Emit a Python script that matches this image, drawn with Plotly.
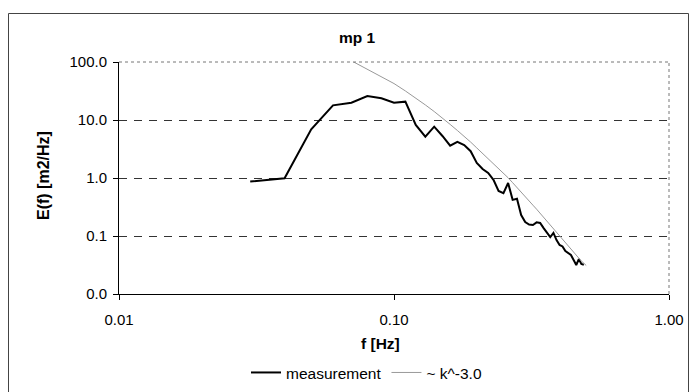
import plotly.graph_objects as go

# ---- data ----
freq_meas = [0.03, 0.04, 0.05, 0.06, 0.07, 0.08, 0.09, 0.10, 0.11, 0.12,
             0.13, 0.14, 0.15, 0.16, 0.17, 0.18, 0.19, 0.20, 0.21, 0.22,
             0.23, 0.24, 0.25, 0.26, 0.27, 0.28, 0.29, 0.30, 0.31, 0.32,
             0.33, 0.34, 0.35, 0.36, 0.37, 0.38, 0.39, 0.40, 0.41, 0.42,
             0.43, 0.44, 0.45, 0.46, 0.47, 0.48, 0.49]
measurement = [0.87, 0.99, 6.9, 17.9, 19.9, 25.9, 23.7, 19.9, 20.7, 8.2,
               5.15, 7.66, 5.3, 3.6, 4.2, 3.7, 2.9, 1.82, 1.43, 1.22,
               0.93, 0.60, 0.55, 0.82, 0.42, 0.44, 0.23, 0.174, 0.158, 0.155,
               0.172, 0.168, 0.137, 0.117, 0.096, 0.113, 0.085, 0.070, 0.066, 0.055,
               0.050, 0.047, 0.0385, 0.0316, 0.040, 0.033, 0.032]

freq_ref = [0.07, 0.08, 0.09, 0.10, 0.11, 0.12, 0.13, 0.14, 0.15, 0.16,
            0.17, 0.18, 0.19, 0.20, 0.21, 0.22, 0.23, 0.24, 0.25, 0.26,
            0.27, 0.28, 0.29, 0.30, 0.31, 0.32, 0.33, 0.34, 0.35, 0.36,
            0.37, 0.38, 0.39, 0.40, 0.41, 0.42, 0.43, 0.44, 0.45, 0.46,
            0.47, 0.48, 0.49, 0.50]
k_minus3 = [105, 75.5, 55.6, 42.5, 31.7, 24.0, 18.2, 14.0, 10.9, 8.4,
            6.6, 5.3, 4.16, 3.3, 2.66, 2.15, 1.76, 1.45, 1.21, 1.01,
            0.83, 0.68, 0.57, 0.475, 0.40, 0.34, 0.29, 0.246, 0.21, 0.178,
            0.152, 0.13, 0.112, 0.097, 0.085, 0.075, 0.066, 0.058, 0.052, 0.046,
            0.041, 0.037, 0.034, 0.031]

x_tickvals = [0.01, 0.1, 1.0]
x_ticktext = ["0.01", "0.10", "1.00"]
y_tickvals = [0.01, 0.1, 1, 10, 100]
y_ticktext = ["0.0", "0.1", "1.0", "10.0", "100.0"]

FONT = "Liberation Sans, Arial, sans-serif"

fig = go.Figure()
fig.add_trace(go.Scatter(x=freq_meas, y=measurement, mode="lines",
                         name="measurement",
                         line=dict(color="black", width=2)))
fig.add_trace(go.Scatter(x=freq_ref, y=k_minus3, mode="lines",
                         name="~ k^-3.0",
                         line=dict(color="#999999", width=1)))

fig.update_layout(
    width=691, height=392,
    margin=dict(l=119, r=22, t=62, b=98, autoexpand=False),
    paper_bgcolor="white", plot_bgcolor="white",
    font=dict(family=FONT, size=15, color="black"),
    title=dict(text="<b>mp 1</b>", x=357/691, xref="container", xanchor="center",
               y=1-38/392, yref="container", yanchor="middle",
               font=dict(size=15.5, family=FONT)),
    showlegend=True,
    legend=dict(orientation="h", x=0.45, xanchor="center", y=-0.34, yanchor="middle",
                font=dict(size=15.5, family=FONT), bgcolor="rgba(0,0,0,0)",
                itemwidth=30, tracegroupgap=0),
    xaxis=dict(type="log", range=[-2, 0], tickvals=x_tickvals, ticktext=x_ticktext,
               showline=True, linecolor="black", linewidth=1,
               ticks="outside", ticklen=5, tickcolor="black",
               ticklabelstandoff=7,
               showgrid=False, zeroline=False,
               tickfont=dict(size=15)),
    yaxis=dict(type="log", range=[-2, 2], tickvals=y_tickvals, ticktext=y_ticktext,
               showline=True, linecolor="black", linewidth=1,
               ticks="outside", ticklen=5, tickcolor="black",
               ticklabelstandoff=3,
               showgrid=True, gridcolor="#333333", gridwidth=1, griddash="8px,7px",
               zeroline=False,
               tickfont=dict(size=15)),
    annotations=[
        dict(text="<b>f [Hz]</b>", xref="paper", yref="paper",
             x=(380-119)/550, y=(294-343)/232, xanchor="center", yanchor="middle",
             showarrow=False, font=dict(size=15.5, family=FONT)),
        dict(text="<b>E(f) [m2/Hz]</b>", xref="paper", yref="paper",
             x=(43-119)/550, y=(294-176)/232, xanchor="center", yanchor="middle",
             textangle=-90, showarrow=False, font=dict(size=16, family=FONT)),
    ],
    shapes=[
        # dotted top and right edges of the plot area
        dict(type="line", xref="paper", yref="paper", x0=0, x1=1, y0=1, y1=1,
             line=dict(color="#777777", width=1, dash="dot"), layer="above"),
        dict(type="line", xref="paper", yref="paper", x0=1, x1=1, y0=0, y1=1,
             line=dict(color="#777777", width=1, dash="dot"), layer="above"),
        # outer chart frame
        dict(type="rect", xref="paper", yref="paper",
             x0=(8.5-119)/550, x1=(688.5-119)/550,
             y0=(294-395)/232, y1=(294-13.5)/232,
             line=dict(color="#444444", width=1), layer="below"),
    ],
)

fig.write_html("out.html")
